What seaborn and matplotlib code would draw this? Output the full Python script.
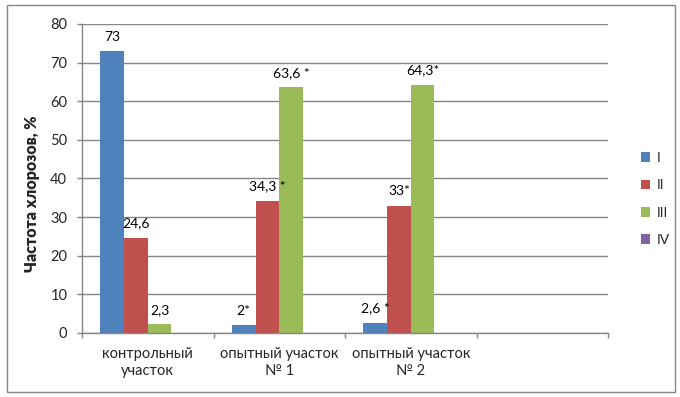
import numpy as np
import pandas as pd
import matplotlib
matplotlib.use("Agg")
import matplotlib.pyplot as plt
from matplotlib.patches import Patch, Rectangle
import seaborn as sns

# Data
categories = ["контрольный\nучасток", "опытный участок\n№ 1", "опытный участок\n№ 2", ""]
series = ["I", "II", "III", "IV"]
values_I = [73, 2, 2.6]
values_II = [24.6, 34.3, 33]
values_III = [2.3, 63.6, 64.3]
labels_I = ["73", "2*", "2,6 *"]
labels_II = ["24,6", "34,3 *", "33*"]
labels_III = ["2,3", "63,6 *", "64,3*"]
colors = ["#4F81BD", "#C0504D", "#9BBB59", "#8064A2"]
yticks = [0, 10, 20, 30, 40, 50, 60, 70, 80]

# Long form table for seaborn
df = pd.DataFrame({
    "cat": categories[:3] * 3,
    "series": ["I"] * 3 + ["II"] * 3 + ["III"] * 3,
    "value": values_I + values_II + values_III,
})

sns.set_theme(style="white")
plt.rcParams["font.family"] = ["Lato", "Noto Sans", "DejaVu Sans"]
plt.rcParams["font.size"] = 10
grid_col = "#868686"

fig = plt.figure(figsize=(6.8, 3.97), dpi=100)
ax = fig.add_axes([82 / 680, 1 - 333 / 397, 526 / 680, 309 / 397])

sns.barplot(data=df, x="cat", y="value", hue="series", order=categories,
            hue_order=series, palette=colors, width=0.72, linewidth=0,
            saturation=1, legend=False, ax=ax)

# Data labels
all_labels = [labels_I, labels_II, labels_III]
for cont, labs in zip(ax.containers, all_labels):
    ax.bar_label(cont, labels=labs, padding=6, fontsize=10, color="#000000")

ax.set_ylim(0, 80)
ax.set_xlim(-0.5, 3.5)
ax.set_yticks(yticks)
ax.yaxis.grid(True, color=grid_col, linewidth=1)
ax.set_axisbelow(True)

# Category boundaries as ticks, names as minor ticks
ax.set_xticks(np.arange(-0.5, 4, 1))
ax.set_xticklabels([])
ax.set_xticks(range(4), categories, minor=True)
ax.tick_params(axis="x", which="major", direction="out", length=3.6,
               color=grid_col, width=1, bottom=True)
ax.tick_params(axis="x", which="minor", length=0, pad=10, labelsize=10.5)
for t in ax.get_xticklabels(minor=True):
    t.set_linespacing(1.3)
ax.tick_params(axis="y", direction="out", length=3.6, color=grid_col,
               width=1, left=True, pad=7, labelsize=10.5)

for s in ["top", "right"]:
    ax.spines[s].set_visible(False)
for s in ["left", "bottom"]:
    ax.spines[s].set_color(grid_col)
    ax.spines[s].set_linewidth(1)

ax.set_xlabel("")
ax.set_ylabel("Частота хлорозов, %", fontsize=11.5, fontweight="heavy")
ax.yaxis.set_label_coords(-0.08, 0.45)

# Legend on the right
handles = [Patch(facecolor=c, edgecolor="none", label=s) for c, s in zip(colors, series)]
fig.legend(handles=handles, loc="center left", bbox_to_anchor=(628 / 680, 1 - 199 / 397),
           frameon=False, handlelength=0.7, handleheight=0.7, handletextpad=0.5,
           labelspacing=1.1, fontsize=10)

# Outer frame
fig.patches.append(Rectangle((7 / 680, 5 / 397), 668 / 680, 387 / 397,
                             transform=fig.transFigure, fill=False,
                             edgecolor=grid_col, linewidth=1))

fig.savefig("out.png", dpi=100)
